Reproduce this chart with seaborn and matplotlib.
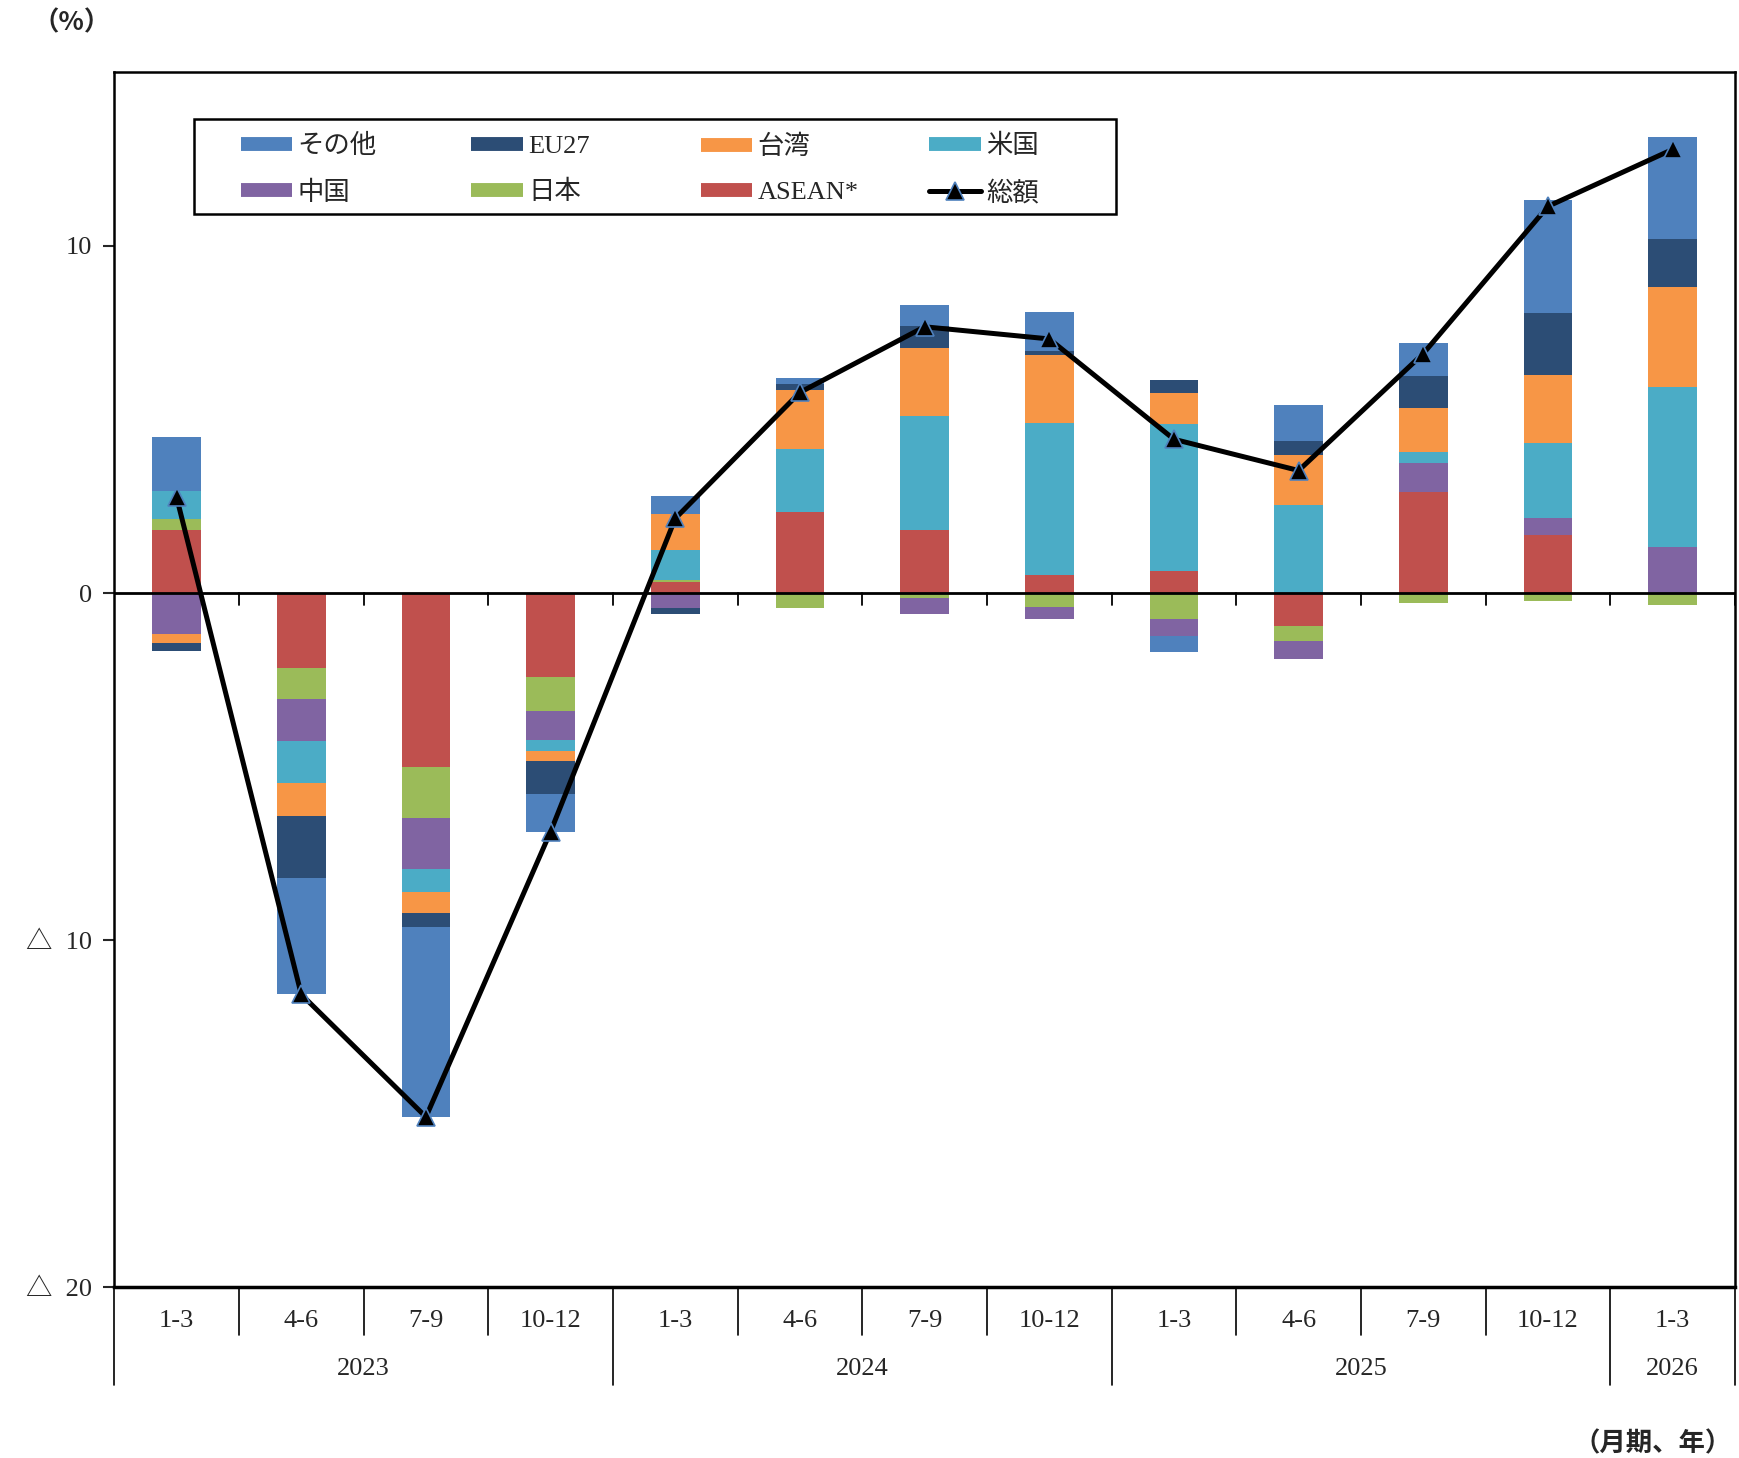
"""
Contribution to export growth by destination, stacked bars with total line.
"""

import matplotlib.pyplot as plt
import matplotlib.transforms as mtransforms
from matplotlib.lines import Line2D
from matplotlib.patches import Rectangle
import seaborn as sns
import numpy as np
import pandas as pd

plt.switch_backend('Agg')

# Data (percentage points)
quarters = ['1-3', '4-6', '7-9', '10-12',
            '1-3', '4-6', '7-9', '10-12',
            '1-3', '4-6', '7-9', '10-12',
            '1-3']
years = ['2023', '2024', '2025', '2026']
year_spans = [4, 4, 4, 1]

asean = [1.83, -2.15, -5.00, -2.41, 0.32, 2.34, 1.83, 0.51, 0.64, -0.96, 2.92, 1.67, 0.00]
japan = [0.29, -0.90, -1.48, -1.00, 0.06, -0.42, -0.13, -0.39, -0.74, -0.42, -0.29, -0.22, -0.35]
china = [-1.19, -1.22, -1.48, -0.83, -0.42, 0.00, -0.48, -0.35, -0.51, -0.51, 0.83, 0.48, 1.32]
usa = [0.83, -1.19, -0.64, -0.32, 0.87, 1.80, 3.27, 4.40, 4.24, 2.54, 0.32, 2.18, 4.62]
taiwan = [-0.26, -0.96, -0.61, -0.29, 1.03, 1.70, 1.96, 1.96, 0.87, 1.44, 1.25, 1.96, 2.89]
eu27 = [-0.22, -1.80, -0.42, -0.93, -0.19, 0.19, 0.64, 0.10, 0.39, 0.39, 0.93, 1.77, 1.38]
others = [1.54, -3.34, -5.46, -1.09, 0.51, 0.16, 0.61, 1.12, -0.45, 1.06, 0.96, 3.27, 2.92]
total = [2.76, -11.56, -15.09, -6.87, 2.15, 5.78, 7.67, 7.32, 4.43, 3.53, 6.90, 11.14, 12.78]

# stacking order from the zero line outward
series = [
    ('ASEAN*', asean, '#C0504D'),
    ('日本', japan, '#9BBB59'),
    ('中国', china, '#8064A2'),
    ('米国', usa, '#4BACC6'),
    ('台湾', taiwan, '#F79646'),
    ('EU27', eu27, '#2C4D75'),
    ('その他', others, '#4F81BD'),
]

sns.set_style('white')
plt.rcParams['font.family'] = ['Liberation Serif', 'Noto Sans CJK JP', 'DejaVu Sans']

fig = plt.figure(figsize=(17.39, 14.58), dpi=100)
ax = fig.add_axes([0.0657, 0.117, 0.932, 0.8334])

x = np.arange(len(quarters))
pos_bottom = np.zeros(len(x))
neg_bottom = np.zeros(len(x))
handles = {}
for name, vals, color in series:
    v = np.array(vals)
    bottom = np.where(v >= 0, pos_bottom, neg_bottom)
    ax.bar(x, v, width=0.39, bottom=bottom, color=color, linewidth=0, zorder=2)
    pos_bottom += np.where(v >= 0, v, 0)
    neg_bottom += np.where(v < 0, v, 0)
    handles[name] = Line2D([0], [0], color=color, lw=10, solid_capstyle='butt')

df_total = pd.DataFrame({'x': x, 'total': total})
sns.lineplot(data=df_total, x='x', y='total', ax=ax, color='black', lw=3.6,
             marker='^', markersize=13, markerfacecolor='black',
             markeredgecolor='#4F81BD', markeredgewidth=1.2, zorder=3)
handles['総額'] = Line2D([0], [0], color='black', lw=3.6, marker='^', markersize=13,
                       markerfacecolor='black', markeredgecolor='#4F81BD',
                       markeredgewidth=1.2)

ax.axhline(0, color='black', lw=2, zorder=4)

ax.set_xlim(-0.5, len(x) - 0.5)
ax.set_ylim(-20, 15)
ax.set_yticks([-20, -10, 0, 10])
ax.set_yticklabels(['△  20', '△  10', '0', '10'], fontsize=19)
ax.tick_params(axis='y', direction='out', length=8, width=1.5, pad=8, left=True)
ax.set_xticks([])
ax.set_xlabel('')
ax.set_ylabel('')
for s in ax.spines.values():
    s.set_color('black')
    s.set_linewidth(1.8)
ax.spines['bottom'].set_linewidth(2.5)

# small ticks on the zero line between categories
for b in np.arange(-0.5, len(x), 1.0):
    ax.plot([b, b], [0, -0.35], color='black', lw=1.3, zorder=4)

# two-level category axis
trans = mtransforms.blended_transform_factory(ax.transData, ax.transAxes)
for i, q in enumerate(quarters):
    ax.text(i, -0.0275, q, transform=trans, ha='center', va='center', fontsize=19)
month_depth = -0.0394
year_depth = -0.0806
year_edges = np.concatenate([[0], np.cumsum(year_spans)]) - 0.5
for b in np.arange(-0.5, len(x), 1.0):
    depth = year_depth if b in year_edges else month_depth
    ax.plot([b, b], [0, depth], transform=trans, color='black', lw=1.2, clip_on=False)
for i, yr in enumerate(years):
    centre = (year_edges[i] + year_edges[i + 1]) / 2
    ax.text(centre, -0.0668, yr, transform=trans, ha='center', va='center', fontsize=19)

# legend: box plus four equally spaced columns (row by row like the original)
fig.patches.append(Rectangle((0.1116, 0.8534), 0.530, 0.0649, transform=fig.transFigure,
                             fill=True, facecolor='white', edgecolor='black',
                             linewidth=1.8, zorder=5))
columns = [['その他', '中国'], ['EU27', '日本'], ['台湾', 'ASEAN*'], ['米国', '総額']]
col_x = [0.1384, 0.2710, 0.4031, 0.5344]
for cx, labels in zip(col_x, columns):
    leg = fig.legend([handles[k] for k in labels], labels, loc='center left',
                     bbox_to_anchor=(cx, 0.8838), frameon=False, fontsize=19,
                     borderpad=0, borderaxespad=0, handlelength=1.95,
                     handletextpad=0.2, labelspacing=0.84)
    leg.set_zorder(6)

fig.text(0.041, 0.984, '（%）', ha='center', va='center', fontsize=19,
         fontweight='bold', family=['Noto Sans CJK JP', 'DejaVu Sans'])
fig.text(0.996, 0.0095, '（月期、年）', ha='right', va='center', fontsize=19,
         fontweight='bold', family=['Noto Sans CJK JP', 'DejaVu Sans'])

plt.savefig('out.png', dpi=100)
plt.close(fig)
